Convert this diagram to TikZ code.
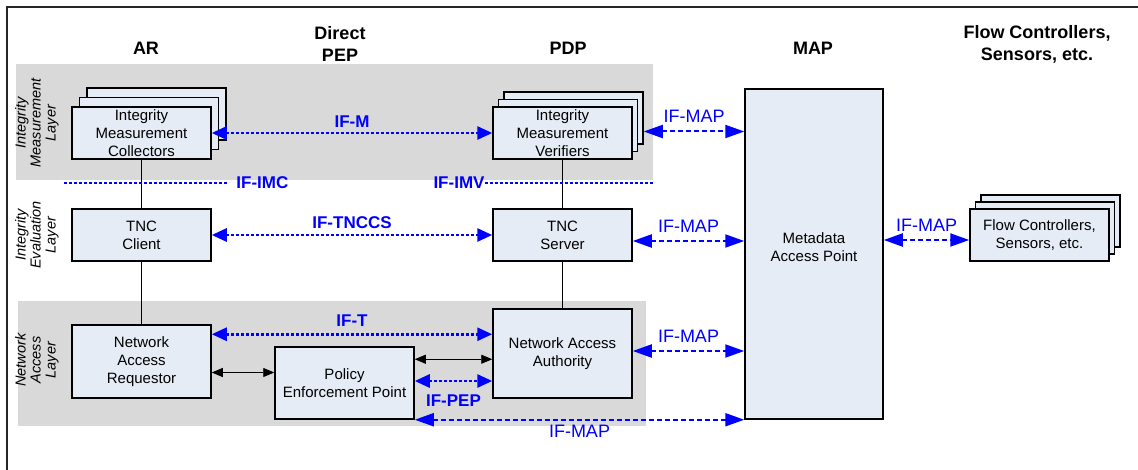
\documentclass[tikz,border=0pt]{standalone}
\usepackage{fontspec}
\setmainfont{Liberation Sans}
\usetikzlibrary{arrows.meta,positioning}
\definecolor{boxfill}{RGB}{230,236,246}
\definecolor{layergray}{RGB}{217,217,217}
\definecolor{ifblue}{RGB}{0,0,255}
\tikzset{
  tncbox/.style={draw=black, line width=1.5pt, fill=boxfill, minimum width=139pt,
    minimum height=52pt, align=center, inner sep=0pt, font=\fontsize{15}{18}\selectfont},
  header/.style={font=\fontsize{18}{22}\selectfont\bfseries, align=center, inner sep=0pt},
  layertext/.style={rotate=90, font=\fontsize{14.5}{15}\selectfont\itshape, align=center, inner sep=0pt},
  iflabel/.style={text=ifblue, font=\fontsize{17}{17}\selectfont\bfseries, inner sep=0pt},
  maplabel/.style={text=ifblue, font=\fontsize{18}{18}\selectfont, inner sep=0pt},
  ifdotline/.style={draw=ifblue, line width=2.8pt, dash pattern=on 3pt off 2pt},
  ifdot/.style={ifdotline, {Triangle[length=15pt,width=13pt]}-{Triangle[length=15pt,width=13pt]}},
  ifmap/.style={draw=ifblue, line width=2pt, dash pattern=on 5pt off 3pt,
    {Triangle[length=19pt,width=13pt]}-{Triangle[length=19pt,width=13pt]}},
  ctrl/.style={draw=black, line width=0.8pt, {Triangle[length=11pt,width=9pt]}-{Triangle[length=11pt,width=9pt]}},
  link/.style={draw=black, line width=0.8pt}
}
\begin{document}
\begin{tikzpicture}[x=1pt, y=-1pt]
  \useasboundingbox (0,0) rectangle (1138,470);
  \draw [line width=1.3pt, black!85] (1138,7) -- (7,7) -- (7,470);

  \fill [layergray] (16,64) rectangle (653,180);
  \fill [layergray] (18,301) rectangle (646,426);

  \node [header] (ar) at (146,48.5) {AR};
  \node [header] (direct) at (340,43.5) {Direct\\PEP};
  \node [header] (pdp) at (568,48.5) {PDP};
  \node [header] (maphead) at (813,48.5) {MAP};
  \node [header] (flowhead) at (1037,44.5) {Flow Controllers,\\Sensors, etc.};

  \node [layertext] (iml) at (37,123) {Integrity\\Measurement\\Layer};
  \node [layertext] (iel) at (37,235) {Integrity\\Evaluation\\Layer};
  \node [layertext] (nal) at (37,360) {Network\\Access\\Layer};

  \node [tncbox] (imc3) at (156.5,114) {};
  \node [tncbox] (imc2) at (149,123.5) {};
  \node [tncbox] (imc) at (141.5,133) {Integrity\\Measurement\\Collectors};
  \node [tncbox] (imv3) at (573.5,118) {};
  \node [tncbox] (imv2) at (568,125.5) {};
  \node [tncbox] (imv) at (562.5,133) {Integrity\\Measurement\\Verifiers};
  \node [tncbox] (tncc) at (141.5,235) {TNC\\Client};
  \node [tncbox] (tncs) at (562.5,235) {TNC\\Server};
  \node [tncbox, minimum height=73pt] (nar) at (141.5,361.5) {Network\\Access\\Requestor};
  \node [tncbox, minimum height=72pt] (pep) at (344.5,383) {Policy\\Enforcement Point};
  \node [tncbox, minimum height=89pt] (naa) at (562.5,353.5) {Network Access\\Authority};
  \node [tncbox, minimum width=138pt, minimum height=330pt,
    label={[align=center, font=\fontsize{15}{18}\selectfont, yshift=7pt]center:Metadata\\Access Point}]
    (map) at (814,254) {};
  \node [tncbox] (flow3) at (1050.5,221) {};
  \node [tncbox] (flow2) at (1045,228) {};
  \node [tncbox] (flow) at (1039.5,235) {Flow Controllers,\\Sensors, etc.};

  \draw [link] (imc) -- (tncc);
  \draw [link] (tncc) -- (nar);
  \draw [link] (imv) -- (tncs);
  \draw [link] (tncs) -- (naa);

  \draw [ifdotline] (64,183) coordinate (imcl) -- (227,183) coordinate (imcr)
    node [iflabel, right=8pt] (ifimc) {IF-IMC};
  \node [iflabel] (ifimv) at (459,183) {IF-IMV};
  \draw [ifdotline] (ifimv.east) -- (653,183) coordinate (imvr);

  \draw [ifdot] (imc.east) -- (imv.west)
    node [midway, above=4pt, iflabel] {IF-M};
  \draw [ifdot] (tncc.east) -- (tncs.west)
    node [midway, above=5pt, iflabel] {IF-TNCCS};
  \draw [ifdot] ([yshift=-10pt]nar.north east) -- ([yshift=-10pt]nar.north east -| naa.west)
    node [midway, above=6pt, iflabel] {IF-T};
  \draw [ctrl] ([yshift=-11pt]nar.east) -- ([yshift=-11pt]nar.east -| pep.west);
  \draw [ctrl] ([yshift=-13pt]pep.north east) -- ([yshift=-13pt]pep.north east -| naa.west);
  \draw [ifdot] ([yshift=2pt]pep.east) -- ([yshift=2pt]pep.east -| naa.west)
    node [midway, below=12pt, iflabel] {IF-PEP};

  \draw [ifmap] ([yshift=1.5pt]imv3.east |- imv.east) -- ([yshift=1.5pt]imv.east -| map.west)
    node [midway, above=8pt, maplabel] {IF-MAP};
  \draw [ifmap] ([yshift=-6pt]tncs.east) -- ([yshift=-6pt]tncs.east -| map.west)
    node [midway, above=7pt, maplabel] {IF-MAP};
  \draw [ifmap] ([yshift=2.5pt]naa.east) -- ([yshift=2.5pt]naa.east -| map.west)
    node [midway, above=7pt, maplabel] {IF-MAP};
  \draw [ifmap] (pep.south east) -- (pep.south east -| map.west)
    node [midway, below=4pt, maplabel] {IF-MAP};
  \draw [ifmap] ([yshift=-5pt]flow.west -| map.east) -- ([yshift=-5pt]flow.west)
    node [midway, above=7pt, maplabel] {IF-MAP};
\end{tikzpicture}
\end{document}
